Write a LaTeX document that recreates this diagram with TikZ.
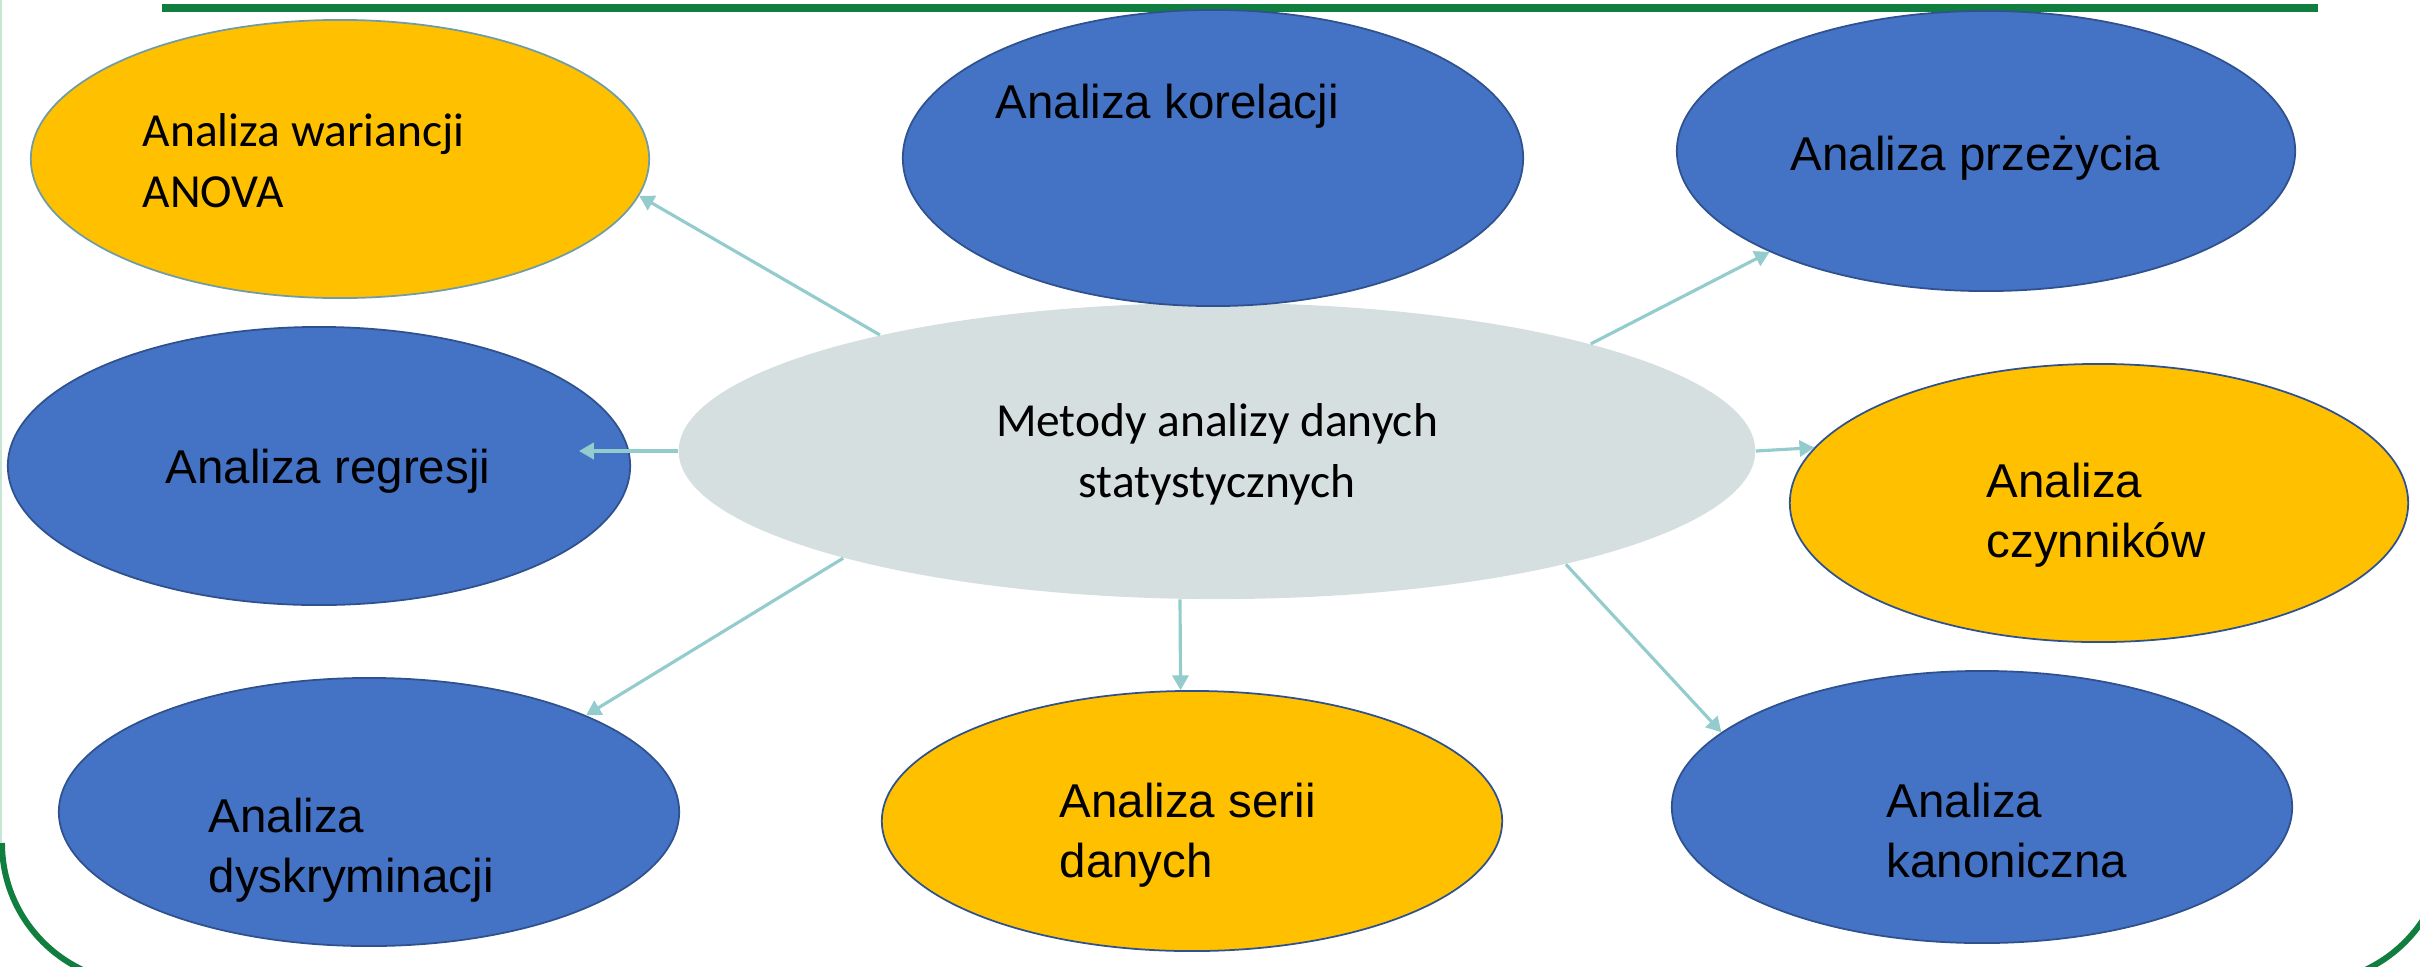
\documentclass[tikz,border=0pt]{standalone}
\usepackage{fontspec}
\setmainfont{Liberation Sans}
\newfontfamily\calibri{Carlito}
\usetikzlibrary{shapes.geometric,arrows.meta,calc}

\definecolor{ellblue}{RGB}{68,114,196}
\definecolor{ellorange}{RGB}{255,192,0}
\definecolor{rimblue}{RGB}{47,82,143}
\definecolor{rimteal}{RGB}{112,156,166}
\definecolor{coregray}{RGB}{214,223,224}
\definecolor{linkteal}{RGB}{148,204,206}
\definecolor{framegreen}{RGB}{16,126,62}
\definecolor{framepale}{RGB}{200,230,212}

\begin{document}
\begin{tikzpicture}[
  x=0.01cm, y=-0.01cm,
  oval/.style={ellipse, draw=rimblue, line width=0.5pt, inner sep=0pt},
  blueoval/.style={oval, fill=ellblue},
  orangeoval/.style={oval, fill=ellorange},
  lbl/.style={inner sep=0pt, align=left, anchor=base west,
              font=\fontsize{13.5}{16.8}\selectfont},
  clbl/.style={lbl, font=\calibri\fontsize{13.5}{17.2}\selectfont},
  link/.style={draw=linkteal, line width=0.9pt,
               -{Triangle[length=4.2pt,width=4.6pt]}}
]
  \useasboundingbox (0,0) rectangle (2420,966);

  \draw[framegreen, line width=2.3pt] (162,8) -- (2318,8);
  \draw[framepale, line width=0.6pt] (1,0) -- (1,843);
  \draw[framegreen, line width=1.7pt] (2,843) arc[start angle=180, end angle=270, radius=1.4cm];
  \draw[framegreen, line width=1.7pt] (2446,843) arc[start angle=0, end angle=-90, radius=1.4cm];

  \node[ellipse, fill=coregray, inner sep=0pt, minimum width=10.76cm, minimum height=2.96cm] (core) at (1217,451) {};

  \node[orangeoval, draw=rimteal, minimum width=6.18cm, minimum height=2.78cm] (anova) at (340,159) {};
  \node[blueoval, minimum width=6.2cm, minimum height=2.96cm]   (kor) at (1213,158) {};
  \node[blueoval, minimum width=6.18cm, minimum height=2.8cm]   (prz) at (1986,151) {};
  \node[blueoval, minimum width=6.22cm, minimum height=2.78cm]  (reg) at (319,466) {};
  \node[orangeoval, minimum width=6.18cm, minimum height=2.78cm] (czy) at (2099,503) {};
  \node[blueoval, minimum width=6.2cm, minimum height=2.68cm]   (dys) at (369,812) {};
  \node[orangeoval, minimum width=6.2cm, minimum height=2.6cm]  (ser) at (1192,821) {};
  \node[blueoval, minimum width=6.2cm, minimum height=2.72cm]   (kan) at (1982,807) {};

  \node[clbl] (anovaT) at (142,207) {Analiza wariancji\\ANOVA};
  \node[lbl]  (korT)   at (995,118) {Analiza korelacji};
  \node[lbl]  (przT)   at (1790,170) {Analiza przeżycia};
  \node[lbl]  (regT)   at (165,483) {Analiza regresji};
  \node[clbl, align=center, anchor=base] (coreT) at (1217,497) {Metody analizy danych\\statystycznych};
  \node[lbl]  (czyT)   at (1986,557) {Analiza\\czynników};
  \node[lbl]  (dysT)   at (208,892) {Analiza\\dyskryminacji};
  \node[lbl]  (serT)   at (1059,877) {Analiza serii\\danych};
  \node[lbl]  (kanT)   at (1886,877) {Analiza\\kanoniczna};

  \coordinate (regtip) at ($(reg.center)+(260,-15)$);

  \draw[link] (core.161) -- (anova.-7);
  \draw[link] (core.west) -- (regtip);
  \draw[link] (core.-164) -- (dys.24);
  \draw[link] (core.-104) -- (ser.95);
  \draw[link] (core.-18) -- (kan.164);
  \draw[link] (core.east) -- (czy.169);
  \draw[link] (core.16) -- (prz.-155);
\end{tikzpicture}
\end{document}
